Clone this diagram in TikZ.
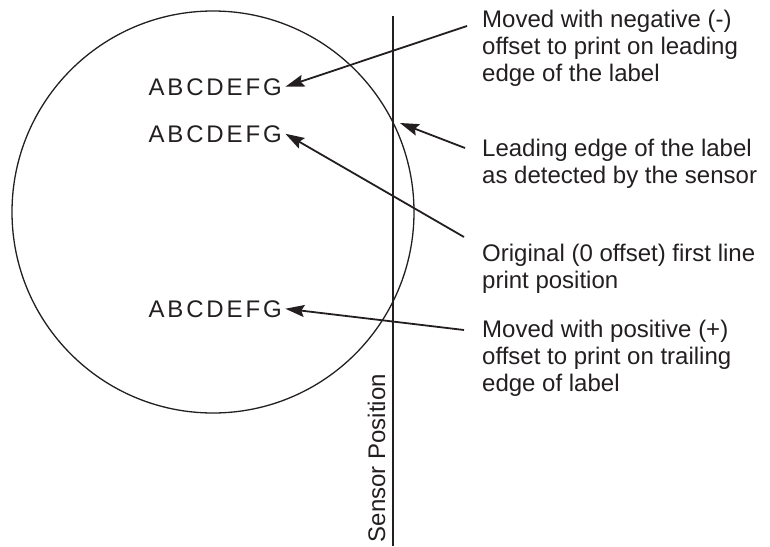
\documentclass[tikz,border=0pt]{standalone}
\usepackage{fontspec}
\setmainfont{Liberation Sans}
\newfontfamily\spacedfont[LetterSpace=12]{Liberation Sans}
\usetikzlibrary{arrows.meta,positioning}
\definecolor{ink}{RGB}{35,31,32}

\begin{document}
\begin{tikzpicture}[x=1pt, y=-1pt, every node/.style={font=\fontsize{24}{27}\selectfont, text=ink},
  sample/.style={anchor=base west, font=\fontsize{24}{27}\selectfont\spacedfont},
  note/.style={anchor=north west, align=left, inner sep=0pt},
  arr/.style={-{Stealth[length=19pt, width=12pt, inset=3pt]}, line width=1.8pt, draw=ink}]
\useasboundingbox (0,0) rectangle (770,546);
\draw[ink, line width=1.3pt] (213,212) circle [radius=201];
\coordinate (sensortop) at (393,16);
\coordinate (sensorbot) at (393,546);
\draw[ink, line width=1.8pt] (sensortop) -- (sensorbot);
\node[rotate=90, anchor=base east, inner sep=0pt] (sensor) at (385,374) {Sensor Position};
\node[sample] (lineneg) at (145,95) {ABCDEFG};
\node[sample] (linezero) at (145,142) {ABCDEFG};
\node[sample] (linepos) at (145,317) {ABCDEFG};
\node[note] (noteneg) at (482,10) {Moved with negative (-)\\offset to print on leading\\edge of the label};
\node[note] (noteedge) at (482,139) {Leading edge of the label\\as detected by the sensor};
\node[note] (notezero) at (482,244) {Original (0 offset) first line\\print position};
\node[note] (notepos) at (482,320) {Moved with positive (+)\\offset to print on trailing\\edge of label};
\coordinate (tailneg) at (467,26);
\coordinate (tailedge) at (465,148);
\coordinate (tailzero) at (464,237);
\coordinate (tailpos) at (464,330);
\coordinate (edgehit) at (400,123);
\draw[arr] (tailneg) -- (lineneg.east);
\draw[arr] (tailedge) -- (edgehit);
\draw[arr] (tailzero) -- (linezero.east);
\draw[arr] (tailpos) -- (linepos.east);
\end{tikzpicture}
\end{document}
